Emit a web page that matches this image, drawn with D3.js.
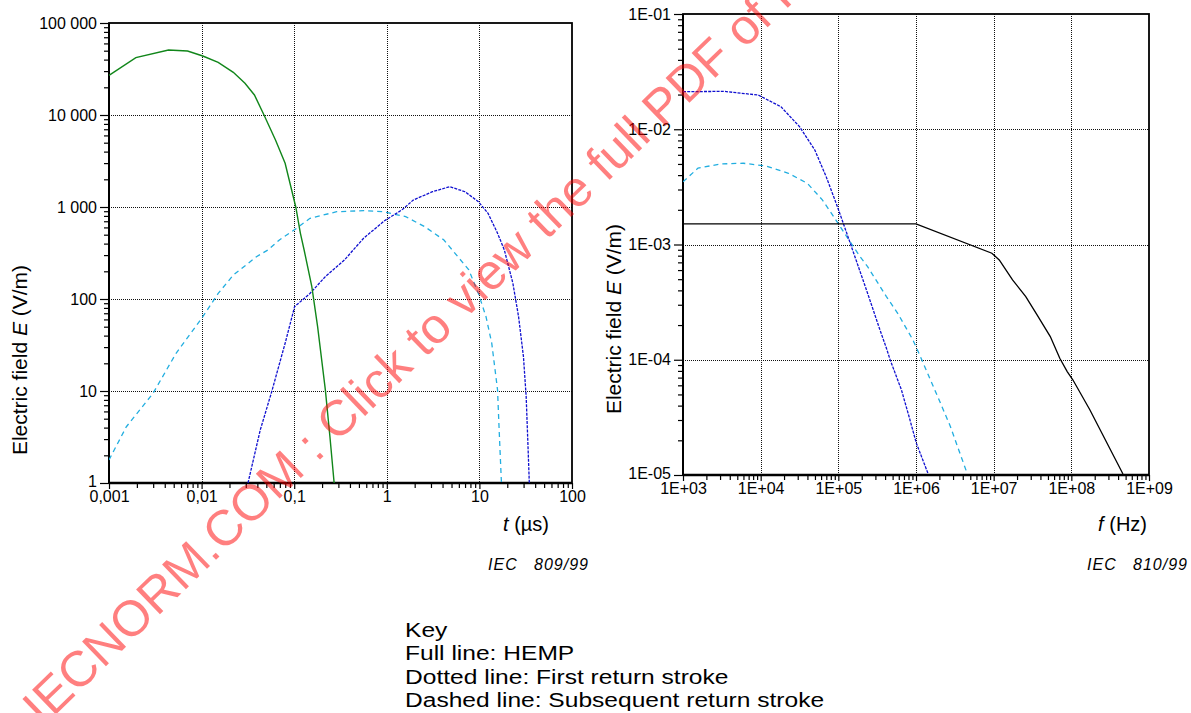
<!DOCTYPE html>
<html>
<head>
<meta charset="utf-8">
<script src="https://cdn.jsdelivr.net/npm/d3@7"></script>
<style>
  html, body { margin: 0; padding: 0; background: #fff; }
  svg { display: block; font-family: Arial, "Liberation Sans", sans-serif; }
  .pre { white-space: pre; }
</style>
</head>
<body>
<svg id="chart" width="1191" height="713"></svg>
<script>
// ---------- DATA ----------
// Left chart: time domain, t in µs, E in V/m
const timeXTicks = [0.001, 0.01, 0.1, 1, 10, 100];
const timeXLabels = ["0,001", "0,01", "0,1", "1", "10", "100"];
const timeYTicks = [1, 10, 100, 1000, 10000, 100000];
const timeYLabels = ["1", "10", "100", "1 000", "10 000", "100 000"];

const hempTime = [[0.001,27000],[0.00195,42000],[0.00439,50900],[0.00705,49600],[0.0103,43800],
  [0.0151,37400],[0.022,29100],[0.0294,22100],[0.0372,16500],[0.0472,10000],[0.0628,5350],
  [0.0798,2990],[0.092,1660],[0.104,1000],[0.1167,518],[0.128,341],[0.155,136],[0.179,50],
  [0.217,10.3],[0.243,3.2],[0.27,1]];
const firstTime = [[0.0317,1],[0.043,3.77],[0.0571,9.8],[0.0798,33],[0.101,82.6],[0.148,115],
  [0.217,175],[0.348,265],[0.561,457],[0.946,710],[1.45,927],[1.93,1190],[3.11,1466],[4.78,1663],
  [6.98,1466],[9.75,1142],[12.4,854],[15.7,518],[18.6,341],[23.0,148],[26.5,64],[29.9,23.6],
  [32.0,8.67],[33.6,2.28],[34.6,1]];
const subsTime = [[0.001,1.78],[0.00154,4.09],[0.00299,9.44],[0.0053,25.7],[0.0103,64.2],
  [0.0151,115],[0.022,182],[0.0391,288],[0.052,341],[0.0692,438],[0.106,586],[0.148,753],
  [0.288,889],[0.561,912],[0.904,889],[1.6,785],[2.57,611],[4.14,438],[6.05,277],[7.69,207],
  [9.75,115],[11.8,64],[13.6,33],[15.7,10.3],[16.4,3.47],[17.3,1]];

// Right chart: frequency domain, f in Hz
const freqXTicks = [1e3, 1e4, 1e5, 1e6, 1e7, 1e8, 1e9];
const freqXLabels = ["1E+03", "1E+04", "1E+05", "1E+06", "1E+07", "1E+08", "1E+09"];
const freqYTicks = [1e-5, 1e-4, 1e-3, 1e-2, 1e-1];
const freqYLabels = ["1E-05", "1E-04", "1E-03", "1E-02", "1E-01"];

const hempFreq = [[1e3,1.51e-3],[1e6,1.51e-3],[9.48e6,8.4e-4],[1.18e7,7.35e-4],[1.75e7,4.93e-4],
  [2.59e7,3.53e-4],[3.62e7,2.45e-4],[5.36e7,1.59e-4],[7.1e7,1.03e-4],[8.85e7,7.9e-5],
  [1.045e8,6.7e-5],[1.73e8,3.68e-5],[4.62e8,1.02e-5]];
const firstFreq = [[1e3,2.12e-2],[3.41e3,2.13e-2],[9.31e3,1.98e-2],[1.82e4,1.57e-2],[3.18e4,1.05e-2],
  [4.98e4,6.6e-3],[6.97e4,3.88e-3],[9.73e4,2.13e-3],[1.285e5,1.25e-3],[2.38e5,3.78e-4],
  [3.32e5,1.94e-4],[4.16e5,1.26e-4],[4.65e5,9.97e-5],[6.49e5,5.48e-5],[8.13e5,3.22e-5],
  [1.01e6,1.89e-5],[1.42e6,1.04e-5]];
const subsFreq = [[1e3,3.5e-3],[1.56e3,4.6e-3],[3.05e3,5.0e-3],[5.96e3,5.07e-3],[1.17e4,4.8e-3],
  [2.28e4,4.15e-3],[3.98e4,3.4e-3],[6.22e4,2.44e-3],[8.69e4,1.75e-3],[1.36e5,1.1e-3],
  [1.9e5,7.86e-4],[2.38e5,6.43e-4],[4.16e5,3.53e-4],[5.81e5,2.53e-4],[9.1e5,1.49e-4],
  [1.135e6,1.07e-4],[1.98e6,4.49e-5],[2.77e6,2.64e-5],[3.67e6,1.55e-5],[4.59e6,1.02e-5]];

const keyLines = ["Key", "Full line: HEMP", "Dotted line: First return stroke", "Dashed line: Subsequent return stroke"];
const watermark = "IECNORM.COM : Click to view the full PDF of IEC 61000-2-11:1999";

// ---------- DRAW ----------
const svg = d3.select("#chart");

function minorsOf(majors) {
  const out = [];
  for (let i = 0; i < majors.length - 1; i++)
    for (let k = 2; k <= 9; k++) out.push(majors[i] * k);
  return out;
}

function panel(cfg) {
  const x = d3.scaleLog().domain(cfg.xDomain).range(cfg.xRange);
  const y = d3.scaleLog().domain(cfg.yDomain).range(cfg.yRange);
  const g = svg.append("g");
  const clipId = cfg.id + "-clip";
  g.append("clipPath").attr("id", clipId).append("rect")
    .attr("x", cfg.xRange[0]).attr("y", cfg.yRange[1])
    .attr("width", cfg.xRange[1] - cfg.xRange[0]).attr("height", cfg.yRange[0] - cfg.yRange[1]);

  // grid
  const grid = g.append("g").attr("stroke", "#111").attr("stroke-width", 1)
    .attr("stroke-dasharray", "1,1").attr("fill", "none");
  cfg.xTicks.slice(1, -1).forEach(v => grid.append("line")
    .attr("x1", Math.round(x(v)) + 0.5).attr("x2", Math.round(x(v)) + 0.5)
    .attr("y1", cfg.yRange[1]).attr("y2", cfg.yRange[0]));
  cfg.yTicks.slice(1, -1).forEach(v => grid.append("line")
    .attr("y1", Math.round(y(v)) + 0.5).attr("y2", Math.round(y(v)) + 0.5)
    .attr("x1", cfg.xRange[0]).attr("x2", cfg.xRange[1]));

  // axes: minor ticks
  const yMinor = d3.axisLeft(y).tickValues(minorsOf(cfg.yTicks)).tickSize(5).tickFormat("");
  const xMinor = d3.axisBottom(x).tickValues(minorsOf(cfg.xTicks)).tickSize(5).tickFormat("");
  g.append("g").attr("transform", `translate(${cfg.xRange[0]},0)`).call(yMinor)
    .call(s => s.select(".domain").remove());
  g.append("g").attr("transform", `translate(0,${cfg.yRange[0]})`).call(xMinor)
    .call(s => s.select(".domain").remove());

  // major ticks + labels
  const yAxis = d3.axisLeft(y).tickValues(cfg.yTicks).tickSize(9).tickPadding(3)
    .tickFormat((d, i) => cfg.yLabels[i]);
  const xAxis = d3.axisBottom(x).tickValues(cfg.xTicks).tickSize(6).tickPadding(2)
    .tickFormat((d, i) => cfg.xLabels[i]);
  const ya = g.append("g").attr("transform", `translate(${cfg.xRange[0]},0)`).call(yAxis);
  const xa = g.append("g").attr("transform", `translate(0,${cfg.yRange[0]})`).call(xAxis);
  [ya, xa].forEach(a => {
    a.select(".domain").remove();
    a.selectAll("text").attr("font-size", 16).attr("fill", "#000")
      .attr("font-family", "Arial, 'Liberation Sans', sans-serif");
    a.selectAll("line").attr("stroke", "#000");
  });
  // keep the lowest y label clear of the first x label
  ya.selectAll(".tick text").filter((d, i) => i === 0).attr("dy", "0.2em");
  g.selectAll(".tick line").attr("stroke", "#000").attr("stroke-width", 1.2);

  // frame
  g.append("rect").attr("x", cfg.xRange[0]).attr("y", cfg.yRange[1])
    .attr("width", cfg.xRange[1] - cfg.xRange[0]).attr("height", cfg.yRange[0] - cfg.yRange[1])
    .attr("fill", "none").attr("stroke", "#000").attr("stroke-width", 1.8);
  g.append("line").attr("x1", cfg.xRange[0]).attr("x2", cfg.xRange[1])
    .attr("y1", cfg.yRange[0]).attr("y2", cfg.yRange[0]).attr("stroke", "#000").attr("stroke-width", 2.4);
  g.append("line").attr("x1", cfg.xRange[0]).attr("x2", cfg.xRange[0])
    .attr("y1", cfg.yRange[1]).attr("y2", cfg.yRange[0]).attr("stroke", "#000").attr("stroke-width", 2);

  // series
  const line = d3.line().x(d => x(d[0])).y(d => y(d[1]));
  const lines = g.append("g").attr("clip-path", `url(#${clipId})`).attr("fill", "none");
  cfg.series.forEach(s => {
    lines.append("path").datum(s.data).attr("d", line)
      .attr("stroke", s.color).attr("stroke-width", s.width || 1.4)
      .attr("stroke-dasharray", s.dash || null);
  });

  // axis titles
  const yt = g.append("text")
    .attr("transform", `translate(${cfg.yTitlePos[0]},${cfg.yTitlePos[1]}) rotate(-90)`)
    .attr("text-anchor", "middle").attr("font-size", 21).attr("fill", "#000");
  yt.append("tspan").text("Electric field ");
  yt.append("tspan").attr("font-style", "italic").text("E");
  yt.append("tspan").text(" (V/m)");

  const xt = g.append("text").attr("x", cfg.xTitlePos[0]).attr("y", cfg.xTitlePos[1])
    .attr("text-anchor", "end").attr("font-size", 20).attr("fill", "#000");
  xt.append("tspan").attr("font-style", "italic").text(cfg.xVar);
  xt.append("tspan").text(" " + cfg.xUnit);

  g.append("text").attr("class", "pre").attr("x", cfg.iecPos[0]).attr("y", cfg.iecPos[1])
    .attr("text-anchor", "end").attr("font-size", 16).attr("font-style", "italic")
    .attr("letter-spacing", 1).attr("fill", "#000").text(cfg.iec);
}

const GREEN = "#11861a", BLUE = "#1010d0", CYAN = "#22aee0";

panel({
  id: "left",
  xDomain: [1e-3, 100], xRange: [109, 572],
  yDomain: [1, 1e5], yRange: [483, 23],
  xTicks: timeXTicks, xLabels: timeXLabels, yTicks: timeYTicks, yLabels: timeYLabels,
  series: [
    { data: subsTime, color: CYAN, dash: "5,4", width: 1.3 },
    { data: firstTime, color: BLUE, dash: "3,1.2", width: 1.3 },
    { data: hempTime, color: GREEN, width: 1.4 }
  ],
  yTitlePos: [27, 360], xTitlePos: [549, 531], xVar: "t", xUnit: "(µs)",
  iecPos: [589, 570], iec: "IEC   809/99"
});

panel({
  id: "right",
  xDomain: [1e3, 1e9], xRange: [683, 1149],
  yDomain: [1e-5, 1e-1], yRange: [475, 14],
  xTicks: freqXTicks, xLabels: freqXLabels, yTicks: freqYTicks, yLabels: freqYLabels,
  series: [
    { data: subsFreq, color: CYAN, dash: "5,4", width: 1.3 },
    { data: firstFreq, color: BLUE, dash: "3,1.2", width: 1.3 },
    { data: hempFreq, color: "#000", width: 1.3 }
  ],
  yTitlePos: [621, 319], xTitlePos: [1147, 531], xVar: "f", xUnit: "(Hz)",
  iecPos: [1188, 570], iec: "IEC   810/99"
});

// key
const key = svg.append("g").attr("transform", "translate(405,0) scale(1.17,1)");
keyLines.forEach((t, i) => key.append("text").attr("x", 0).attr("y", 637 + i * 23.5)
  .attr("font-size", 21).attr("fill", "#000").text(t));

// watermark
svg.append("text").attr("transform", "translate(43,727) rotate(-44)")
  .attr("font-size", 50).attr("fill", "#ff0000").attr("fill-opacity", 0.5)
  .text(watermark);
</script>
</body>
</html>
